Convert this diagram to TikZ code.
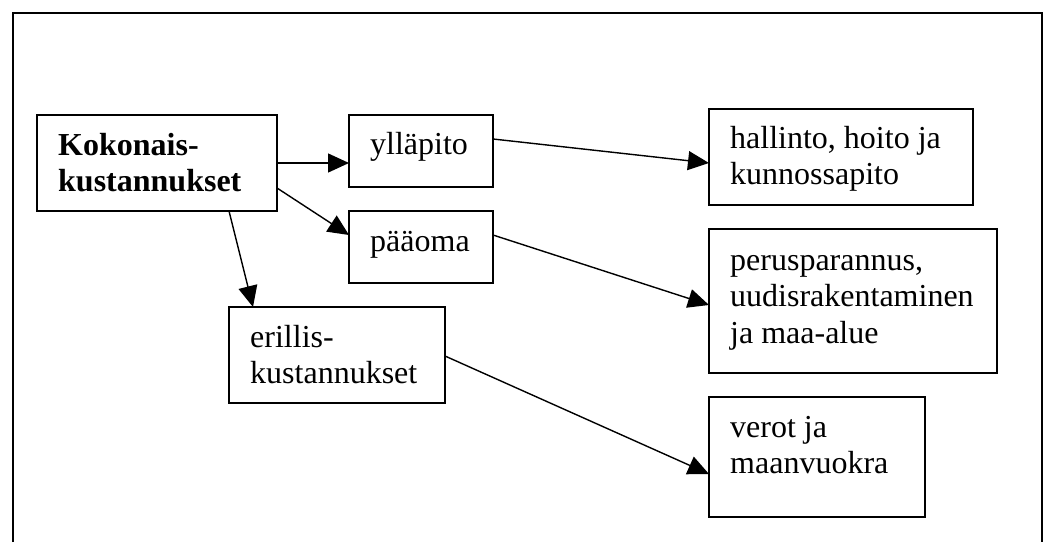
\documentclass[tikz,border=0pt]{standalone}
\usepackage{fontspec}
\setmainfont{Liberation Serif}
\usetikzlibrary{arrows.meta,calc}
\begin{document}
\begin{tikzpicture}[x=1pt,y=-1pt,
  box/.style={draw,line width=1.6pt,rectangle,inner sep=0pt,outer sep=0pt,anchor=north west},
  txt/.style={anchor=base west,inner sep=0pt,align=left,font=\fontsize{32}{36.7}\selectfont},
  conn/.style={draw,line width=1.4pt,-{Triangle[length=21pt,width=19pt]}},
  frame/.style={draw,line width=1.6pt,line join=miter}]
\useasboundingbox (0,0) rectangle (1045,542);

% open frame round the chart
\draw[frame] (13,542) -- (13,13) -- (1042,13) -- (1042,542);

% boxes
\node[box,minimum width=240pt,minimum height=96pt]  (A) at (37,115)  {};
\node[box,minimum width=144pt,minimum height=72pt]  (B) at (349,115) {};
\node[box,minimum width=144pt,minimum height=72pt]  (C) at (349,211) {};
\node[box,minimum width=216pt,minimum height=96pt]  (D) at (229,307) {};
\node[box,minimum width=264pt,minimum height=96pt]  (E) at (709,109) {};
\node[box,minimum width=288pt,minimum height=144pt] (F) at (709,229) {};
\node[box,minimum width=216pt,minimum height=120pt] (G) at (709,397) {};

% box texts (anchored on the baseline of their last line)
\node[txt,font=\fontsize{32}{36.7}\selectfont\bfseries] (tA) at ($(A.north west)+(21,76.7)$) {Kokonais-\\kustannukset};
\node[txt] (tB) at ($(B.north west)+(21,39)$) {ylläpito};
\node[txt] (tC) at ($(C.north west)+(21,40)$) {pääoma};
\node[txt] (tD) at ($(D.north west)+(21,76.7)$) {erillis-\\kustannukset};
\node[txt] (tE) at ($(E.north west)+(21,75.7)$) {hallinto, hoito ja\\kunnossapito};
\node[txt] (tF) at ($(F.north west)+(21,114.4)$) {perusparannus,\\uudisrakentaminen\\ja maa-alue};
\node[txt] (tG) at ($(G.north west)+(21,76.7)$) {verot ja\\maanvuokra};

% connectors
\draw[conn] ($(A.north east)+(0,48)$) -- ($(B.north west)+(0,48)$);
\draw[conn] ($(A.north east)+(0,73)$) -- ($(C.north west)+(0,24)$);
\draw[conn] ($(A.south west)+(192,0)$) -- ($(D.north west)+(24,0)$);
\draw[conn] ($(B.north east)+(0,24)$) -- ($(E.north west)+(0,54)$);
\draw[conn] ($(C.north east)+(0,24)$) -- ($(F.north west)+(0,76)$);
\draw[conn] ($(D.north east)+(0,49)$) -- ($(G.north west)+(0,77)$);
\end{tikzpicture}
\end{document}
